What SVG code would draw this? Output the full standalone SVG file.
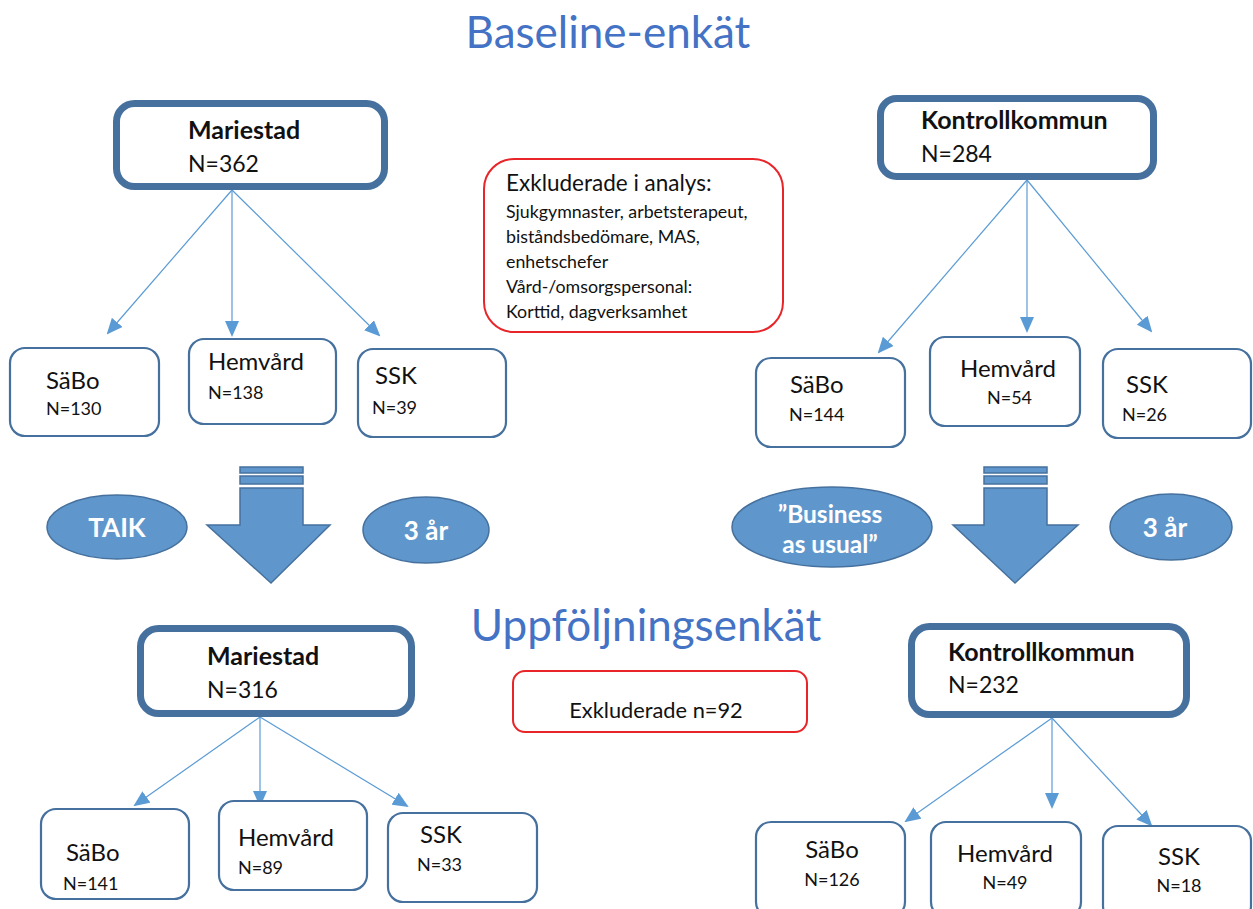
<svg xmlns="http://www.w3.org/2000/svg" width="1253" height="909" viewBox="0 0 1253 909">
<style>
text{font-family:Lato,"Liberation Sans",sans-serif;fill:#111}
.title{font-size:44px;fill:#4472C4}
.big{fill:#fff;stroke:#46719E;stroke-width:7}
.small{fill:#fff;stroke:#46719E;stroke-width:2.2}
.red{fill:#fff;stroke:#E8262A;stroke-width:2}
.hb{font-size:25px;font-weight:bold}
.hn{font-size:23px}
.sl{font-size:24px}
.sn{font-size:18px}
.ex{font-size:17.8px}
.ell{fill:#5F97CC;stroke:#46719E;stroke-width:1.5}
.et{font-size:26px;font-weight:bold;fill:#fff;text-anchor:middle}
.blk{fill:#5F97CC;stroke:#46719E;stroke-width:1.5}
.conn line{stroke:#5B9BD5;stroke-width:1.2;marker-end:url(#ah)}
.mid{text-anchor:middle}
</style>
<defs>
<marker id="ah" markerUnits="userSpaceOnUse" markerWidth="16" markerHeight="14" refX="14" refY="7" orient="auto">
<path d="M0,0 L16,7 L0,14 Z" fill="#5B9BD5"/>
</marker>
</defs>
<rect width="1253" height="909" fill="#fff"/>

<text class="title" x="608" y="48" text-anchor="middle">Baseline-enkät</text>
<text class="title" x="646" y="641" text-anchor="middle">Uppföljningsenkät</text>

<g id="connectors" class="conn">
<line x1="232" y1="190" x2="108" y2="333"/>
<line x1="232" y1="190" x2="232" y2="335"/>
<line x1="232" y1="190" x2="379" y2="335"/>
<line x1="1027" y1="180" x2="879" y2="352"/>
<line x1="1027" y1="180" x2="1027" y2="331"/>
<line x1="1027" y1="180" x2="1151" y2="331"/>
<line x1="260" y1="717" x2="135" y2="805"/>
<line x1="260" y1="717" x2="260" y2="805"/>
<line x1="260" y1="717" x2="407" y2="806"/>
<line x1="1052" y1="718" x2="906" y2="821"/>
<line x1="1052" y1="718" x2="1052" y2="807"/>
<line x1="1052" y1="718" x2="1151" y2="825"/>
</g>

<g id="mariestad-base">
<rect class="big" x="116.5" y="103.5" width="268" height="83" rx="18"/>
<text class="hb" x="188" y="139">Mariestad</text>
<text class="hn" x="188" y="172">N=362</text>
</g>
<g id="kontroll-base">
<rect class="big" x="880.5" y="98.5" width="273" height="78" rx="16"/>
<text class="hb" x="921" y="129">Kontrollkommun</text>
<text class="hn" x="921" y="162">N=284</text>
</g>

<g id="excl-base">
<rect class="red" x="484" y="159" width="299" height="173" rx="30"/>
<text x="506" y="191" style="font-size:22.5px">Exkluderade i analys:</text>
<text class="ex" x="506" y="218">Sjukgymnaster, arbetsterapeut,</text>
<text class="ex" x="506" y="243">biståndsbedömare, MAS,</text>
<text class="ex" x="506" y="268">enhetschefer</text>
<text class="ex" x="506" y="293">Vård-/omsorgspersonal:</text>
<text class="ex" x="506" y="318">Korttid, dagverksamhet</text>
</g>

<g id="m-sabo-1"><rect class="small" x="10" y="348" width="149" height="88" rx="15"/>
<text class="sl" x="46" y="389">SäBo</text><text class="sn" x="46" y="415">N=130</text></g>
<g id="m-hem-1"><rect class="small" x="189" y="339" width="147" height="85" rx="15"/>
<text class="sl" x="208" y="370">Hemvård</text><text class="sn" x="208" y="399">N=138</text></g>
<g id="m-ssk-1"><rect class="small" x="358" y="349" width="148" height="88" rx="15"/>
<text class="sl" x="375" y="384">SSK</text><text class="sn" x="372" y="414">N=39</text></g>

<g id="k-sabo-1"><rect class="small" x="756" y="358" width="149" height="89" rx="15"/>
<text class="sl" x="790" y="393">SäBo</text><text class="sn" x="789" y="421">N=144</text></g>
<g id="k-hem-1"><rect class="small" x="930" y="337" width="150" height="89" rx="15"/>
<text class="sl" x="960" y="377">Hemvård</text><text class="sn" x="987" y="404">N=54</text></g>
<g id="k-ssk-1"><rect class="small" x="1103" y="349" width="148" height="89" rx="15"/>
<text class="sl" x="1126" y="393">SSK</text><text class="sn" x="1122" y="421">N=26</text></g>

<g id="arrow-left">
<rect class="blk" x="240" y="467" width="63" height="6"/>
<rect class="blk" x="240" y="476" width="63" height="8"/>
<path class="blk" d="M240,488 H303 V525 H330 L271,583 L207,525 H240 Z"/>
</g>
<g id="arrow-right">
<rect class="blk" x="984" y="467" width="63" height="6"/>
<rect class="blk" x="984" y="476" width="63" height="8"/>
<path class="blk" d="M984,488 H1047 V525 H1078 L1015,583 L953,525 H984 Z"/>
</g>

<g id="taik"><ellipse class="ell" cx="117" cy="527" rx="70" ry="32"/>
<text class="et" x="117" y="537">TAIK</text></g>
<g id="tre-ar-left"><ellipse class="ell" cx="426" cy="530" rx="63" ry="33"/>
<text class="et" x="426" y="540">3 år</text></g>
<g id="business"><ellipse class="ell" cx="832" cy="527" rx="100" ry="40"/>
<text class="et" x="830" y="523" style="font-size:24.5px">”Business</text>
<text class="et" x="830" y="553" style="font-size:24.5px">as usual”</text></g>
<g id="tre-ar-right"><ellipse class="ell" cx="1171" cy="527" rx="61" ry="33"/>
<text class="et" x="1165" y="537">3 år</text></g>

<g id="mariestad-follow">
<rect class="big" x="140.5" y="628.5" width="271" height="85" rx="18"/>
<text class="hb" x="207" y="665">Mariestad</text>
<text class="hn" x="207" y="698">N=316</text>
</g>
<g id="kontroll-follow">
<rect class="big" x="911.5" y="626.5" width="275" height="88" rx="18"/>
<text class="hb" x="948" y="661">Kontrollkommun</text>
<text class="hn" x="948" y="693">N=232</text>
</g>
<g id="excl-follow">
<rect class="red" x="513" y="671" width="294" height="61" rx="12"/>
<text class="mid" x="656" y="718" style="font-size:21.8px">Exkluderade n=92</text>
</g>

<g id="m-sabo-2"><rect class="small" x="41" y="809" width="148" height="90" rx="15"/>
<text class="sl" x="66" y="861">SäBo</text><text class="sn" x="63" y="890">N=141</text></g>
<g id="m-hem-2"><rect class="small" x="219" y="801" width="148" height="89" rx="15"/>
<text class="sl" x="238" y="846">Hemvård</text><text class="sn" x="238" y="874">N=89</text></g>
<g id="m-ssk-2"><rect class="small" x="388" y="813" width="149" height="89" rx="15"/>
<text class="sl" x="420" y="843">SSK</text><text class="sn" x="417" y="871">N=33</text></g>

<g id="k-sabo-2"><rect class="small" x="756" y="822" width="149" height="95" rx="15"/>
<text class="sl mid" x="832" y="858">SäBo</text><text class="sn mid" x="832" y="886">N=126</text></g>
<g id="k-hem-2"><rect class="small" x="931" y="822" width="150" height="95" rx="15"/>
<text class="sl mid" x="1005" y="862">Hemvård</text><text class="sn mid" x="1005" y="889">N=49</text></g>
<g id="k-ssk-2"><rect class="small" x="1103" y="826" width="148" height="95" rx="15"/>
<text class="sl mid" x="1179" y="865">SSK</text><text class="sn mid" x="1179" y="892">N=18</text></g>
</svg>
